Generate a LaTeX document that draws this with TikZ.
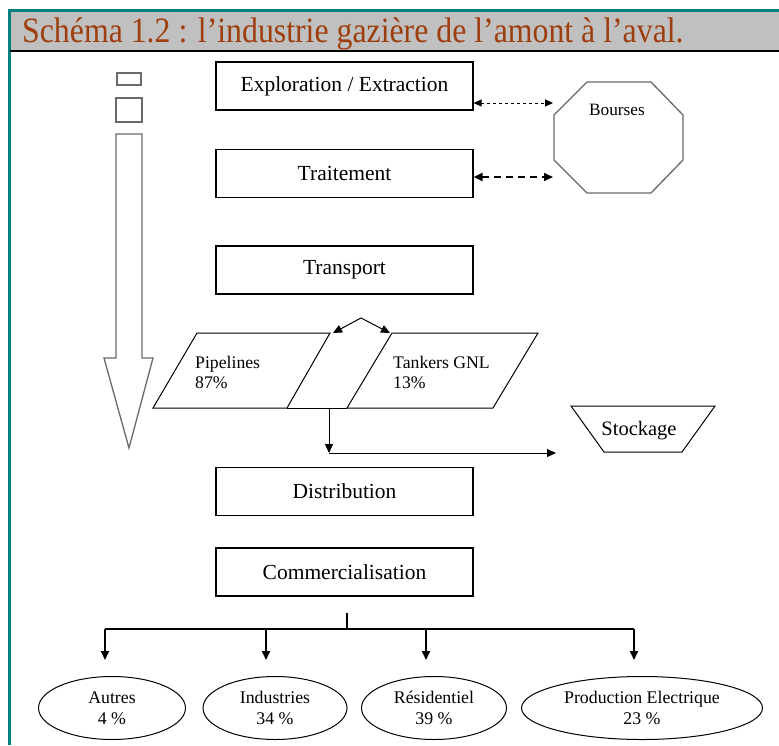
\documentclass[tikz,border=0pt]{standalone}
\usepackage{fontspec}
\setmainfont{Liberation Serif}
\usetikzlibrary{arrows.meta,shapes.geometric}
\definecolor{tealc}{RGB}{0,128,128}
\definecolor{bandc}{RGB}{192,192,192}
\definecolor{titlec}{RGB}{158,62,14}
\definecolor{outl}{RGB}{105,105,105}
\begin{document}
\begin{tikzpicture}[x=1pt,y=-1pt,
  box/.style={draw,line width=1.2pt,minimum width=257pt,minimum height=48pt,inner sep=0pt,font=\fontsize{21.5}{24}\selectfont},
  ell/.style={draw,ellipse,line width=1pt,inner sep=0pt,align=center,minimum height=63pt,font=\fontsize{17.8}{21}\selectfont},
  tipline/.style={line width=1.1pt,-{Triangle[length=9pt,width=8pt]}},
  shapeline/.style={draw,line width=1pt},
  grayline/.style={draw=outl,line width=1.3pt},
  lbl/.style={inner sep=0pt,font=\fontsize{17.7}{20}\selectfont}
]
\useasboundingbox (0,0) rectangle (779,745);
\fill[white] (0,0) rectangle (779,745);
% frame
\fill[bandc] (10,11) rectangle (779,50);
\draw[tealc,line width=3pt] (9,745) -- (9,10) -- (779,10);
\draw[black,line width=2pt] (10,51) -- (779,51);
\node[anchor=base west,inner sep=0pt,text=titlec,font=\fontsize{31.8}{32}\selectfont,yscale=1.12] (title) at (22,42) {Schéma 1.2 : l’industrie gazière de l’amont à l’aval.};

% left big arrow
\draw[grayline] (117,73) rectangle (141,85);
\draw[grayline] (116,98) rectangle (142,122);
\draw[grayline,line join=miter] (116,134) -- (142,134) -- (142,358) -- (153,358) -- (129,448) -- (104,358) -- (116,358) -- cycle;

% boxes
\node[box] (explo) at (344.5,86) {Exploration / Extraction};
\node[box] (trait) at (344.5,173.5) {Traitement};
\node[box] (transp) at (344.5,270) {Transport};
\node[box] (distrib) at (344.5,491.5) {Distribution};
\node[box] (comm) at (344.5,572) {Commercialisation};

% Bourses octagon
\node[minimum width=129pt,minimum height=111pt,inner sep=0pt] (bourses) at (618.5,137.5) {};
\draw[grayline] (587,82) -- (651,82) -- (683,115) -- (683,160) -- (651,193) -- (587,193) -- (554,160) -- (554,115) -- cycle;
\node[lbl,font=\fontsize{17.3}{18}\selectfont] (bourseslbl) at (617,110) {Bourses};
\coordinate (b1) at (553,103);
\coordinate (b2) at (553,177);
\draw[line width=0.9pt,dash pattern=on 3pt off 3pt,{Triangle[length=8pt,width=7pt]}-{Triangle[length=8pt,width=7pt]}] (explo.east |- b1) -- (b1);
\draw[line width=2pt,dash pattern=on 7pt off 5pt,{Triangle[length=9pt,width=8pt]}-{Triangle[length=9pt,width=8pt]}] (trait.east |- b2) -- (b2);

% parallelograms
\draw[shapeline] (197,333) -- (330,333) -- (287,408) -- (153,408) -- cycle;
\draw[shapeline] (392,333) -- (538,333) -- (493,408) -- (347,408) -- cycle;
\node[lbl,anchor=west,align=left] (pipe) at (195,372) {Pipelines\\87\%};
\node[lbl,anchor=west,align=left] (tank) at (393,372) {Tankers GNL\\13\%};
\coordinate (peak) at (361,318);
\draw[line width=1pt,{Triangle[length=9pt,width=8pt]}-{Triangle[length=9pt,width=8pt]}] (333,333) -- (peak) -- (390,333);

% stockage
\node[lbl,font=\fontsize{20.5}{22}\selectfont] (stock) at (639,431) {Stockage};
\draw[shapeline] (571,406) -- (715,406) -- (682,452) -- (604,452) -- cycle;
\coordinate (j1) at (329,408);
\coordinate (j2) at (329,453);
\coordinate (s1) at (556,453);
\draw[line width=1pt] (287,408) -- (347,408);
\draw[tipline,line width=1pt] (j1) -- (j2);
\draw[tipline,line width=1pt] (j2) -- (s1);

% bottom tree
\node[ell,minimum width=147pt] (autres) at (112,708) {Autres\\4 \%};
\node[ell,minimum width=144pt] (indus) at (275,708) {Industries\\34 \%};
\node[ell,minimum width=145pt] (resid) at (434,708) {Résidentiel\\39 \%};
\node[ell,minimum width=241pt] (prod) at (642,708) {Production Electrique\\23 \%};
\coordinate (stem) at (347,629);
\draw[line width=1.6pt] (comm.south -| stem) ++(0,16) -- (stem);
\draw[line width=1.6pt] (105,629) -- (634,629);
\draw[tipline,line width=1.6pt] (105,629) -- (105,660);
\draw[tipline,line width=1.6pt] (266,629) -- (266,660);
\draw[tipline,line width=1.6pt] (426,629) -- (426,660);
\draw[tipline,line width=1.6pt] (634,629) -- (634,660);
\end{tikzpicture}
\end{document}
